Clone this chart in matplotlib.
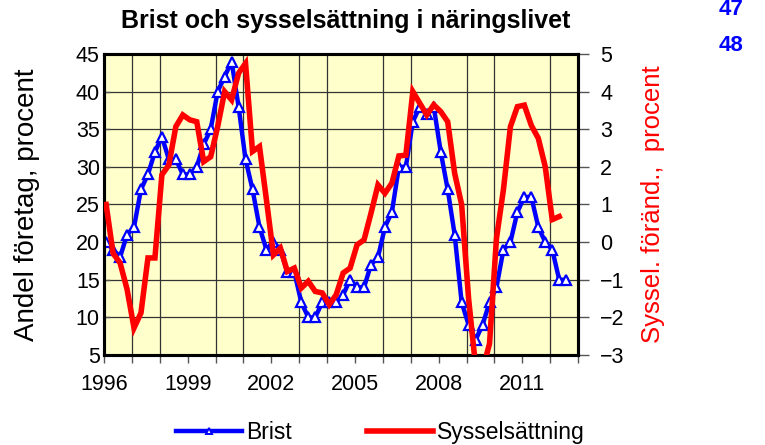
import numpy as np
import matplotlib.pyplot as plt
from matplotlib.lines import Line2D

plt.rcParams['font.family'] = ['Liberation Sans', 'DejaVu Sans']

# quarterly data, first quarter 1996
brist = [20, 19, 18, 21, 22, 27, 29, 32, 34, 31,
         31, 29, 29, 30, 33, 35, 40, 42, 44, 38,
         31, 27, 22, 19, 20, 19, 16, 16, 12, 10,
         10, 12, 12, 12, 13, 15, 14, 14, 17, 18,
         22, 24, 30, 30, 36, 38, 37, 38, 32, 27,
         21, 12, 9, 7, 9, 12, 14, 19, 20, 24,
         26, 26, 22, 20, 19, 15, 15]

syssel = [1.0, -0.3, -0.55, -1.25, -2.28, -1.88, -0.42, -0.42, 1.79, 2.05,
          3.07, 3.38, 3.25, 3.2, 2.14, 2.27, 3.07, 4.0, 3.78, 4.49,
          4.75, 2.41, 2.54, 1.12, -0.34, -0.16, -0.78, -0.69, -1.22, -1.04,
          -1.31, -1.35, -1.66, -1.4, -0.82, -0.69, -0.07, 0.06, 0.77, 1.52,
          1.3, 1.57, 2.29, 2.31, 4.0, 3.69, 3.38, 3.65, 3.47, 3.2,
          1.83, 1.0, -1.5, -3.3, -3.4, -2.7, 0.1, 1.4, 3.07, 3.6,
          3.64, 3.1, 2.76, 2.0, 0.6, 0.68]

year_labels = [1996, 1999, 2002, 2005, 2008, 2011]
left_ticks = [5, 10, 15, 20, 25, 30, 35, 40, 45]
right_ticks = [-3, -2, -1, 0, 1, 2, 3, 4, 5]

x_brist = 1996 + (np.arange(len(brist)) + 0.3) / 4
x_syssel = 1996 + (np.arange(len(syssel)) + 0.3) / 4

fig = plt.figure(figsize=(7.65, 4.45), dpi=100)
ax = fig.add_axes([0.136, 0.2022, 0.6196, 0.6765])
ax.set_facecolor('#FFFFCC')
ax2 = ax.twinx()

ax.plot(x_brist, brist, color='#0000FF', lw=3.2, marker='^', ms=7,
        mfc='white', mec='#0000FF', mew=1.6, zorder=3)
ax2.plot(x_syssel, syssel, color='#FF0000', lw=4, zorder=3,
         solid_joinstyle='miter')

ax.set_xlim(1996, 2013)
ax.set_ylim(5, 45)
ax2.set_ylim(-3, 5)

ax.set_xticks(year_labels)
ax.set_xticks(np.arange(1996, 2014), minor=True)
ax.set_yticks(left_ticks)
ax2.set_yticks(right_ticks)
ax.tick_params(axis='x', which='major', labelsize=15.5, direction='out',
               length=6, width=1, color='#555555', pad=8)
ax.tick_params(axis='x', which='minor', direction='out', length=6, width=1,
               color='#555555')
ax.tick_params(axis='y', labelsize=15.5, direction='in', length=4, width=1,
               color='#555555', pad=3)
ax2.tick_params(axis='y', labelsize=15.5, direction='out', length=8, width=1,
                color='#555555', pad=8)

ax.grid(True, which='major', axis='y', color='#333333', lw=0.9)
ax.grid(True, which='minor', axis='x', color='#333333', lw=0.9)
ax.set_axisbelow(True)

for a in (ax, ax2):
    for s in a.spines.values():
        s.set_linewidth(2.2)
        s.set_color('black')

ax.set_ylabel('Andel företag, procent', fontsize=20, labelpad=26)
ax2.set_ylabel('Syssel. föränd.,  procent', fontsize=18.5, color='#FF0000',
               labelpad=12)
ax.set_title('Brist och sysselsättning i näringslivet', fontsize=18,
             fontweight='bold', pad=19, x=0.51)

fig.text(0.955, 0.978, '47', color='#0000FF', fontsize=16, fontweight='bold',
         ha='center', va='center')
fig.text(0.955, 0.897, '48', color='#0000FF', fontsize=16, fontweight='bold',
         ha='center', va='center')

handles = [Line2D([], [], color='#0000FF', lw=3.2, marker='^', ms=5,
                  mfc='white', mec='#0000FF', mew=1.4),
           Line2D([], [], color='#FF0000', lw=4)]
fig.legend(handles, ['Brist', 'Sysselsättning'], loc='center',
           bbox_to_anchor=(0.497, 0.027), ncol=2, frameon=False, fontsize=16.5,
           handlelength=2.9, handletextpad=0.15, columnspacing=3.3)

fig.savefig('out.png', dpi=100)
